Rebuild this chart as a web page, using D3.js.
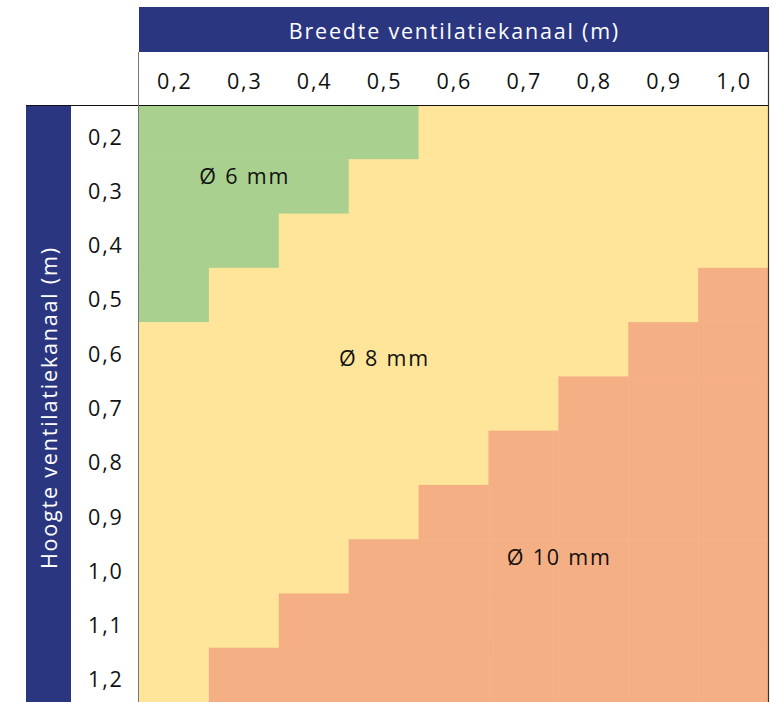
<!DOCTYPE html>
<html>
<head>
<meta charset="utf-8">
<script src="https://cdn.jsdelivr.net/npm/d3@7"></script>
<style>
  body { margin: 0; background: #fff; }
  svg text { font-family: "Open Sans", sans-serif; }
</style>
</head>
<body>
<div id="chart"></div>
<script>
(function () {
	// data
	var widths = ['0,2', '0,3', '0,4', '0,5', '0,6', '0,7', '0,8', '0,9', '1,0'];
	var heights = ['0,2', '0,3', '0,4', '0,5', '0,6', '0,7', '0,8', '0,9', '1,0', '1,1', '1,2'];
	// required wire diameter (mm), one row per height
	var diameters = [
		[6, 6, 6, 6, 8, 8, 8, 8, 8],
		[6, 6, 6, 8, 8, 8, 8, 8, 8],
		[6, 6, 8, 8, 8, 8, 8, 8, 8],
		[6, 8, 8, 8, 8, 8, 8, 8, 10],
		[8, 8, 8, 8, 8, 8, 8, 10, 10],
		[8, 8, 8, 8, 8, 8, 10, 10, 10],
		[8, 8, 8, 8, 8, 10, 10, 10, 10],
		[8, 8, 8, 8, 10, 10, 10, 10, 10],
		[8, 8, 8, 10, 10, 10, 10, 10, 10],
		[8, 8, 10, 10, 10, 10, 10, 10, 10],
		[8, 10, 10, 10, 10, 10, 10, 10, 10]
	];
	var zoneValues = [6, 8, 10];
	var zoneLabels = ['Ø 6 mm', 'Ø 8 mm', 'Ø 10 mm'];
	var xTitle = 'Breedte ventilatiekanaal (m)';
	var yTitle = 'Hoogte ventilatiekanaal (m)';

	// layout
	var W = 776, H = 702;
	var gridL = 139, gridR = 768, gridT = 105, gridB = 702;
	var navy = '#2b3681';
	var fontSize = 21.5, spacing = 1.8;
	var colors = d3.scaleOrdinal().domain(zoneValues).range(['#a9d08e', '#ffe599', '#f4b084']);
	// label anchors in column / row units
	var labelPos = [[1.5, 1.29], [3.5, 4.66], [6.0, 8.31]];

	var svg = d3.select('#chart').append('svg')
		.attr('width', W).attr('height', H);

	var x = d3.scaleBand().domain(widths).range([gridL, gridR]);
	var y = d3.scaleBand().domain(heights).range([gridT, gridB]);
	var xu = d3.scaleLinear().domain([0, widths.length]).range([gridL, gridR]);
	var yu = d3.scaleLinear().domain([0, heights.length]).range([gridT, gridB]);

	var cells = [];
	diameters.forEach(function (row, i) {
		row.forEach(function (v, j) {
			cells.push({h: heights[i], w: widths[j], v: v});
		});
	});

	svg.append('g').selectAll('rect')
		.data(cells).enter().append('rect')
		.attr('x', d => x(d.w))
		.attr('y', d => y(d.h))
		.attr('width', x.bandwidth() + 0.5)
		.attr('height', y.bandwidth() + 0.5)
		.attr('fill', d => colors(d.v));

	// letter-spacing adds a trailing gap, shift by half of it
	function label(sel) {
		sel.attr('text-anchor', 'middle').attr('dominant-baseline', 'central')
			.attr('font-size', fontSize).attr('letter-spacing', spacing + 'px')
			.attr('dx', spacing / 2);
	}

	// header
	svg.append('rect')
		.attr('x', gridL).attr('y', 7)
		.attr('width', gridR - gridL).attr('height', 45)
		.attr('fill', navy);
	svg.append('text')
		.attr('x', (gridL + gridR) / 2).attr('y', 30)
		.call(label)
		.attr('fill', '#fff')
		.text(xTitle);

	svg.append('g').selectAll('text')
		.data(widths).enter().append('text')
		.attr('x', d => x(d) + x.bandwidth() / 2)
		.attr('y', 80)
		.call(label)
		.attr('fill', '#111')
		.text(d => d);

	// left title bar
	svg.append('rect')
		.attr('x', 26).attr('y', gridT)
		.attr('width', 45).attr('height', gridB - gridT)
		.attr('fill', navy);
	svg.append('text')
		.attr('transform', 'translate(' + [48.5, (gridT + gridB) / 2 + 5] + ')rotate(-90)')
		.call(label)
		.attr('fill', '#fff')
		.text(yTitle);

	svg.append('g').selectAll('text')
		.data(heights).enter().append('text')
		.attr('x', 105)
		.attr('y', d => y(d) + y.bandwidth() / 2 + 4)
		.call(label)
		.attr('fill', '#111')
		.text(d => d);

	// zone labels
	svg.append('g').selectAll('text')
		.data(zoneLabels).enter().append('text')
		.attr('x', (d, i) => xu(labelPos[i][0]))
		.attr('y', (d, i) => yu(labelPos[i][1]))
		.call(label)
		.attr('fill', '#111')
		.text(d => d);

	// borders
	svg.append('line')
		.attr('x1', 26).attr('x2', gridR + 1).attr('y1', gridT + 0.5).attr('y2', gridT + 0.5)
		.attr('stroke', '#111').attr('stroke-width', 1);
	svg.append('line')
		.attr('x1', gridL - 0.5).attr('x2', gridL - 0.5).attr('y1', 52).attr('y2', gridB)
		.attr('stroke', '#777').attr('stroke-width', 1);
	svg.append('line')
		.attr('x1', gridR + 0.5).attr('x2', gridR + 0.5).attr('y1', 7).attr('y2', gridB)
		.attr('stroke', '#333').attr('stroke-width', 1.2);
})();
</script>
</body>
</html>
